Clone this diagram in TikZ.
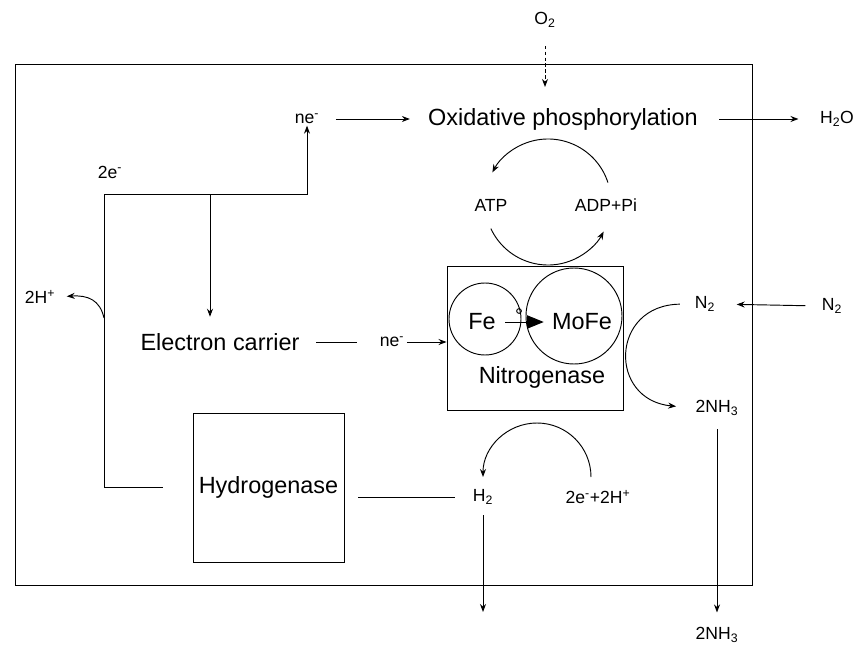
\documentclass[tikz,border=0pt]{standalone}
\usepackage{fontspec}
\setmainfont{Liberation Sans}
\usetikzlibrary{arrows.meta}

\begin{document}
\begin{tikzpicture}[
    x=0.03cm, y=-0.03cm,
    line width=0.8pt,
    lbl/.style={inner sep=1pt, font=\fontsize{15}{18}\selectfont},
    bigtxt/.style={inner sep=1pt, font=\fontsize{20}{24}\selectfont},
    enzyme/.style={draw, inner sep=0pt},
    arrow/.style={-{Stealth[length=2.4mm, width=1.8mm]}}
  ]
    \useasboundingbox (0,0) rectangle (860,646);
    % cell boundary
    \node[enzyme, minimum width=22.11cm, minimum height=15.63cm] (cell) at (383.5,324.5) {};
    % labels
    \node[lbl] (o2) at (545,20) {O\textsubscript{2}};
    \node[bigtxt] (oxphos) at (563,119) {Oxidative phosphorylation};
    \node[lbl] (neTop) at (307,119) {ne\textsuperscript{-}};
    \node[lbl] (h2o) at (837,119) {H\textsubscript{2}O};
    \node[lbl] (twoE) at (110,172) {2e\textsuperscript{-}};
    \node[lbl] (atp) at (491,205) {ATP};
    \node[lbl] (adp) at (606,205) {ADP+Pi};
    \node[lbl] (hplus) at (40,297) {2H\textsuperscript{+}};
    \node[bigtxt] (carrier) at (220,342) {Electron carrier};
    \node[lbl] (neMid) at (392,342) {ne\textsuperscript{-}};
    % nitrogenase
    \node[enzyme, minimum width=5.28cm, minimum height=4.32cm] (nitro) at (535,338) {};
    \node[enzyme, circle, minimum size=2.16cm] (feC) at (485,319) {};
    \node[enzyme, circle, minimum size=2.88cm] (mofeC) at (574,316) {};
    \node[bigtxt] (fe) at (482,322) {Fe};
    \node[bigtxt] (mofe) at (582,322) {MoFe};
    \node[enzyme, circle, minimum size=4pt] (site) at (519,311) {};
    \node[bigtxt] (nitroLbl) at (542,377) {Nitrogenase};
    \node[lbl] (n2in) at (705,304) {N\textsubscript{2}};
    \node[lbl] (n2out) at (832,306) {N\textsubscript{2}};
    \node[lbl] (nh3) at (717,408) {2NH\textsubscript{3}};
    \node[lbl] (nh3out) at (717,635) {2NH\textsubscript{3}};
    % hydrogenase
    \node[enzyme, bigtxt, inner sep=0pt, minimum width=4.53cm, minimum height=4.47cm] (hyd) at (268.5,487.5) {Hydrogenase};
    \node[lbl] (h2) at (483,497) {H\textsubscript{2}};
    \node[lbl] (protons) at (598,497) {2e\textsuperscript{-}+2H\textsuperscript{+}};
    % helper points
    \coordinate (cyc) at (548,202);
    \coordinate (hcyc) at (537,477);
    \coordinate (corner) at (104,194);
    \coordinate (branch) at (210,194);
    \coordinate (hj) at (104,318);
    \coordinate (o2in) at (545,87);
    \coordinate (h2out) at (483,612);
    % connectors
    \draw[arrow, dash pattern=on 3pt off 2pt, shorten <=0.5cm] (o2.south) -- (o2in);
    \draw[arrow, shorten <=0.45cm, shorten >=0.5cm] (neTop.east) -- (oxphos.west);
    \draw[arrow, shorten <=0.6cm, shorten >=0.6cm] (oxphos.east) -- (h2o.west);
    \draw[arrow, shorten <=0.9cm] (hyd.west) -| (corner) -| (neTop.south);
    \draw[arrow, shorten >=0.45cm] (branch) -- (branch |- carrier.north);
    \draw[arrow, shorten >=0.3cm] (hj) .. controls (100,300) and (88,295) .. (hplus.east);
    \draw[shorten <=0.45cm, shorten >=0.63cm] (carrier.east) -- (neMid.west);
    \draw[arrow, shorten <=1pt] (neMid.east) -- (neMid.east -| nitro.west);
    \draw[-{Triangle[length=5mm, width=4mm]}, shorten <=0.24cm, shorten >=0.2cm] (fe.east) -- (mofe.west);
    \draw[arrow] ([shift={(-18:63)}]cyc) arc[start angle=-18, end angle=-152, radius=63];
    \draw[arrow] ([shift={(155:63)}]cyc) arc[start angle=155, end angle=28, radius=63];
    \draw[arrow, shorten <=0.45cm, shorten >=0.6cm] (n2out.west) -- (n2in.east);
    \draw[arrow, shorten <=0.4cm, shorten >=0.54cm] (n2in.west) .. controls (610,305) and (608,400) .. (nh3.west);
    \draw[arrow, shorten <=0.36cm, shorten >=0.4cm] (nh3.south) -- (nh3out.north);
    \draw[shorten <=0.42cm, shorten >=0.5cm] (hyd.east |- h2.west) -- (h2.west);
    \draw[arrow, shorten <=0.27cm] (h2.south) -- (h2out);
    \draw[arrow] ([shift={(0:54)}]hcyc) arc[start angle=0, end angle=-180, radius=54];
  \end{tikzpicture}
\end{document}
